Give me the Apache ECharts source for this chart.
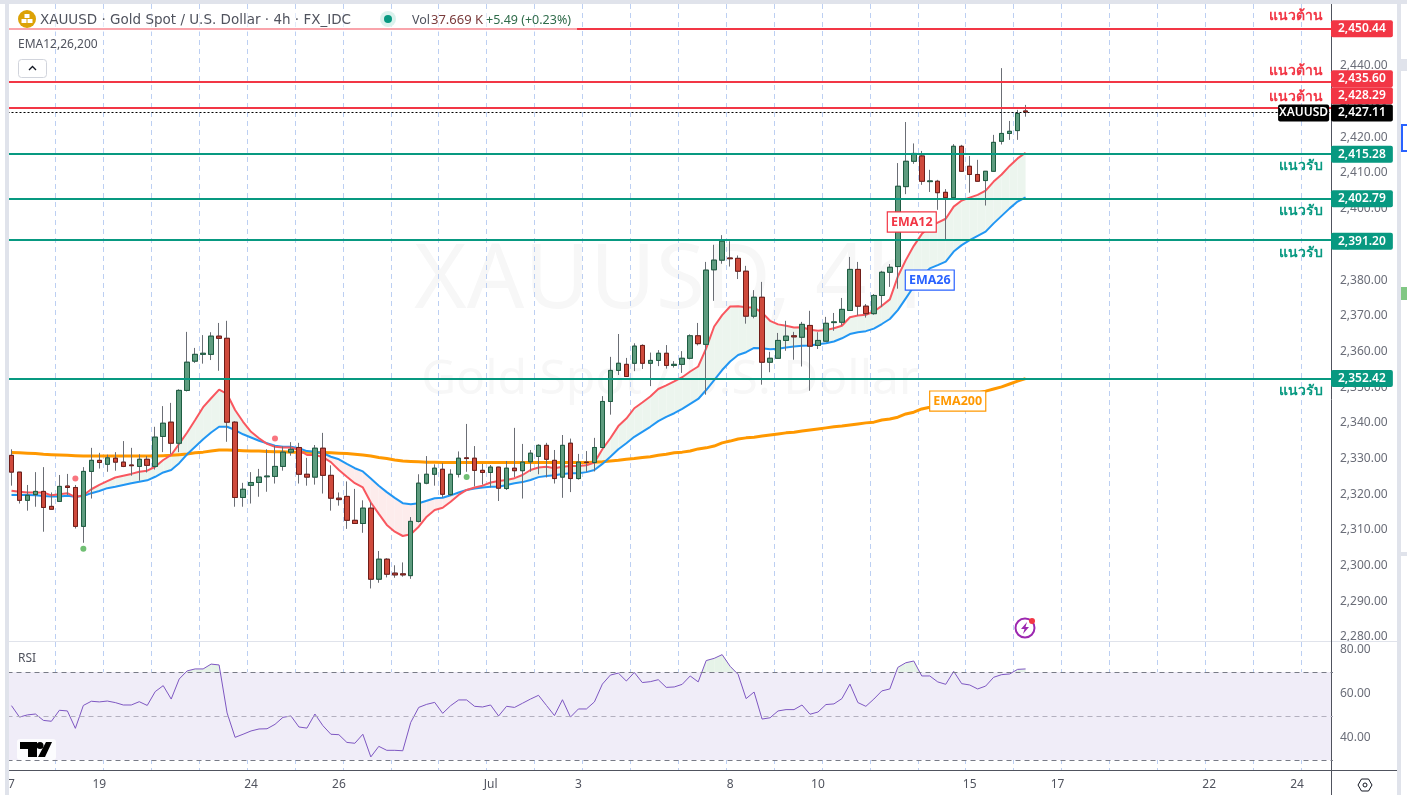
<!DOCTYPE html>
<html>
<head>
<meta charset="utf-8">
<title>XAUUSD</title>
<script src="https://cdn.jsdelivr.net/npm/echarts@6/dist/echarts.min.js"></script>
<style>
html,body{margin:0;padding:0;background:#fff;overflow:hidden}
#chart{width:1407px;height:795px}
</style>
</head>
<body>
<div id="chart"></div>
<script>
// ohlc, one candle at a time
var opens = [2330.9,2326.2,2318.3,2319.9,2320.8,2316.6,2318.0,2322.3,2321.9,2311.0,2326.4,2329.5,2328.4,2330.1,2329.0,2328.2,2327.8,2329.8,2327.8,2336.2,2340.2,2334.3,2349.1,2357.3,2359.2,2359.2,2364.3,2363.7,2340.2,2319.1,2322.5,2323.3,2324.9,2325.0,2327.8,2331.8,2333.1,2325.6,2324.8,2332.9,2325.3,2318.9,2319.4,2312.7,2311.8,2316.1,2296.2,2301.8,2297.9,2297.7,2297.2,2312.4,2323.1,2325.6,2327.0,2319.9,2325.6,2330.2,2330.1,2326.7,2326.1,2327.6,2321.6,2327.3,2326.6,2329.1,2330.6,2333.7,2329.5,2324.8,2334.3,2324.4,2329.0,2328.9,2333.1,2346.0,2354.7,2356.4,2356.7,2361.7,2356.7,2357.5,2359.5,2356.1,2356.4,2358.1,2364.4,2362.0,2382.9,2385.6,2386.2,2386.1,2382.5,2369.9,2375.2,2357.0,2358.1,2363.1,2364.4,2364.0,2367.3,2361.7,2362.9,2368.1,2368.2,2371.5,2383.0,2372.7,2370.6,2375.7,2382.2,2383.8,2406.2,2413.3,2414.8,2407.6,2407.7,2404.6,2403.1,2417.5,2411.9,2409.6,2407.9,2410.5,2418.9,2421.1,2421.9,2427.4];
var closes = [2326.2,2318.3,2319.7,2320.8,2316.3,2315.8,2322.2,2321.9,2311.0,2326.4,2329.5,2328.9,2330.2,2329.0,2327.8,2328.0,2329.8,2328.1,2336.0,2339.9,2334.3,2349.1,2357.0,2359.2,2359.5,2364.3,2363.7,2340.2,2319.1,2321.4,2323.3,2324.8,2325.1,2327.8,2331.8,2332.6,2325.6,2324.8,2332.9,2325.3,2318.9,2318.5,2312.7,2311.8,2316.1,2296.2,2301.8,2297.6,2297.4,2297.4,2312.4,2323.1,2325.6,2327.3,2320.0,2325.6,2330.1,2330.0,2326.7,2326.1,2327.6,2321.7,2327.3,2326.6,2329.0,2331.5,2333.7,2329.8,2324.4,2333.7,2324.4,2329.0,2328.9,2333.1,2346.0,2354.7,2356.7,2353.0,2361.5,2356.7,2357.5,2359.5,2356.1,2356.4,2358.1,2364.4,2362.2,2382.8,2385.6,2390.9,2386.0,2382.5,2369.9,2375.2,2357.0,2358.1,2363.1,2364.3,2364.1,2367.6,2361.5,2363.1,2367.9,2368.3,2371.8,2383.0,2372.7,2370.6,2375.7,2382.2,2383.6,2406.3,2413.3,2415.5,2407.7,2407.8,2404.5,2403.1,2417.5,2410.5,2409.6,2407.7,2410.5,2418.6,2421.1,2421.7,2426.7,2427.11];
var lows = [2322.4,2317.4,2315.4,2316.5,2309.5,2315.8,2318.0,2319.8,2310.4,2306.4,2318.8,2327.2,2326.3,2326.6,2327.6,2325.2,2323.8,2326.1,2326.9,2331.8,2331.3,2331.8,2348.8,2356.8,2356.6,2357.6,2354.6,2334.7,2316.5,2316.5,2317.4,2319.3,2320.7,2323.0,2326.6,2330.8,2323.0,2322.4,2322.7,2320.2,2315.4,2316.8,2310.3,2311.7,2309.2,2293.6,2295.2,2296.7,2296.6,2296.9,2296.3,2312.1,2322.8,2322.4,2319.1,2319.5,2324.7,2326.3,2322.2,2322.7,2321.9,2318.1,2321.2,2324.8,2318.8,2326.3,2325.6,2324.7,2323.0,2319.0,2320.6,2324.1,2326.3,2326.4,2332.8,2342.3,2353.4,2353.0,2354.5,2355.1,2350.3,2355.9,2355.2,2355.5,2354.0,2357.8,2361.7,2347.9,2374.2,2384.6,2383.8,2380.3,2367.8,2369.3,2350.7,2354.2,2358.1,2360.2,2357.7,2355.8,2349.0,2360.7,2362.7,2365.8,2367.3,2371.5,2370.1,2369.5,2370.3,2372.5,2378.1,2377.6,2404.1,2412.6,2406.7,2404.7,2399.7,2391.2,2403.1,2410.3,2404.5,2407.6,2400.9,2410.5,2418.0,2419.3,2419.3,2425.8];
var highs = [2332.6,2326.2,2322.6,2326.2,2327.6,2320.5,2325.4,2325.7,2322.6,2327.6,2333.0,2331.6,2331.1,2331.8,2334.9,2333.0,2331.2,2330.7,2338.9,2344.7,2345.6,2349.4,2365.5,2361.0,2364.6,2365.4,2368.0,2368.6,2340.5,2323.2,2326.2,2327.1,2332.6,2333.6,2333.4,2334.6,2334.4,2330.2,2333.8,2337.2,2328.1,2320.5,2323.6,2321.5,2318.3,2317.7,2304.1,2302.1,2300.1,2300.9,2313.6,2325.6,2330.7,2328.4,2328.7,2327.0,2332.0,2339.7,2333.5,2328.5,2328.2,2327.7,2329.3,2338.6,2334.1,2332.4,2334.0,2334.4,2332.4,2336.6,2335.6,2331.3,2332.1,2335.8,2347.5,2358.5,2364.9,2358.2,2362.3,2362.0,2359.7,2360.4,2361.8,2357.3,2360.1,2364.8,2368.0,2385.1,2389.9,2392.6,2390.9,2386.9,2384.0,2377.2,2379.5,2359.9,2365.2,2368.6,2365.5,2368.3,2371.4,2365.4,2369.7,2370.8,2375.0,2386.5,2385.1,2373.3,2376.1,2382.6,2384.5,2412.8,2424.3,2418.3,2416.2,2410.9,2408.1,2405.5,2418.1,2417.9,2414.8,2413.7,2410.5,2420.7,2439.4,2424.6,2427.7,2429.1];
var ema12 = [2321.0,2320.7,2320.5,2320.5,2320.5,2319.7,2320.0,2320.3,2319.2,2319.7,2321.4,2322.6,2323.7,2324.7,2325.2,2325.7,2326.3,2326.6,2327.7,2329.6,2331.0,2334.1,2337.3,2340.8,2344.4,2346.9,2349.3,2348.1,2343.6,2340.3,2337.5,2335.7,2334.1,2333.3,2333.1,2333.1,2332.4,2331.0,2331.0,2330.4,2329.0,2326.8,2324.9,2323.1,2321.9,2317.7,2314.5,2311.4,2309.5,2308.3,2308.8,2310.9,2313.7,2315.6,2316.2,2317.9,2319.8,2321.2,2321.9,2322.4,2323.3,2323.7,2324.0,2324.5,2325.4,2326.8,2327.5,2327.7,2327.3,2327.7,2327.9,2327.9,2328.1,2328.9,2332.6,2335.7,2339.1,2341.2,2344.1,2345.7,2347.4,2349.5,2350.5,2351.6,2352.8,2354.4,2355.8,2360.9,2367.0,2370.2,2372.6,2372.7,2372.4,2372.3,2370.9,2368.6,2367.6,2367.2,2366.7,2366.8,2366.1,2365.8,2366.0,2366.5,2367.2,2369.6,2370.1,2370.3,2371.2,2372.8,2374.6,2381.0,2385.6,2389.6,2392.9,2395.0,2396.1,2397.2,2400.6,2402.3,2403.1,2403.9,2405.1,2407.6,2409.6,2412.0,2414.1,2415.7];
var ema26 = [2319.8,2319.8,2319.8,2319.7,2319.5,2319.4,2319.4,2319.6,2319.3,2319.5,2320.3,2320.9,2321.7,2322.1,2322.6,2323.1,2323.5,2323.9,2324.9,2326.1,2326.8,2328.7,2331.2,2333.3,2335.4,2337.3,2338.9,2338.9,2338.0,2336.8,2335.9,2335.0,2334.3,2333.6,2333.3,2333.3,2332.9,2332.1,2331.9,2331.5,2330.5,2329.8,2328.5,2327.3,2326.4,2324.4,2322.4,2320.6,2319.0,2317.5,2317.2,2317.5,2318.2,2318.9,2319.0,2319.7,2320.5,2321.2,2321.6,2321.9,2322.1,2322.1,2322.6,2323.1,2323.4,2324.0,2324.8,2325.1,2325.3,2325.7,2325.9,2325.9,2326.2,2326.8,2328.5,2330.5,2332.6,2334.3,2336.1,2337.5,2338.9,2340.5,2341.7,2342.7,2343.9,2345.3,2346.7,2349.2,2352.0,2354.8,2357.2,2359.0,2359.8,2361.0,2360.9,2360.6,2360.8,2361.1,2361.4,2361.6,2361.7,2362.0,2362.3,2362.8,2363.7,2364.9,2365.4,2365.7,2366.4,2367.7,2369.1,2371.6,2374.9,2378.2,2381.0,2383.3,2384.2,2385.2,2388.0,2389.8,2391.2,2392.4,2393.6,2395.9,2398.0,2400.1,2402.0,2403.2];
var ema200 = [2331.7,2331.6,2331.5,2331.4,2331.2,2331.1,2331.0,2330.9,2330.8,2330.7,2330.7,2330.7,2330.7,2330.7,2330.7,2330.7,2330.7,2330.7,2330.7,2330.8,2330.9,2331.1,2331.3,2331.6,2331.8,2332.1,2332.4,2332.4,2332.3,2332.2,2332.1,2332.1,2332.0,2331.9,2331.9,2331.8,2331.8,2331.8,2331.7,2331.7,2331.6,2331.5,2331.4,2331.2,2331.0,2330.7,2330.3,2330.0,2329.6,2329.3,2329.2,2329.1,2329.0,2329.0,2328.9,2328.9,2328.9,2328.9,2328.9,2328.9,2328.9,2328.9,2328.9,2328.9,2328.9,2328.9,2328.9,2328.9,2328.9,2328.9,2328.9,2328.9,2328.9,2329.0,2329.1,2329.3,2329.5,2329.8,2330.0,2330.3,2330.5,2330.9,2331.2,2331.6,2331.8,2332.1,2332.7,2333.0,2333.5,2334.4,2334.9,2335.5,2335.8,2336.0,2336.3,2336.6,2336.9,2337.2,2337.4,2337.7,2338.0,2338.3,2338.6,2338.9,2339.1,2339.4,2339.7,2340.0,2340.2,2340.8,2341.1,2341.6,2342.5,2343.0,2343.9,2344.4,2345.0,2345.6,2346.4,2347.0,2347.5,2348.4,2348.9,2349.5,2350.1,2350.9,2351.7,2352.4];
var rsi = [54.7,49.5,50.5,50.9,48.0,47.6,52.6,52.3,44.4,54.8,56.7,56.4,56.8,56.1,55.0,55.0,56.5,54.8,61.1,63.8,57.7,66.8,70.5,71.4,71.4,73.6,73.2,51.4,40.3,41.7,43.2,44.1,44.2,46.2,49.4,50.0,45.0,44.5,50.9,45.6,41.7,41.5,38.0,37.6,41.7,31.4,36.2,34.4,34.4,34.2,47.1,53.9,55.3,56.2,51.2,54.7,57.3,57.3,54.4,54.1,55.0,50.0,54.4,53.9,55.8,57.7,59.4,54.8,50.2,57.4,49.5,53.2,53.2,56.4,64.5,68.6,69.5,65.9,69.8,65.2,65.6,66.5,63.0,63.2,64.4,68.2,65.5,75.2,76.2,77.9,72.6,68.9,57.9,60.9,48.6,49.2,52.3,52.9,52.9,55.0,50.8,51.8,55.2,55.5,57.9,64.5,56.1,54.4,57.7,61.4,62.3,72.1,74.2,75.0,68.2,68.2,65.5,64.4,70.3,64.7,64.1,62.3,63.6,67.6,68.8,69.1,71.2,71.4];

var resistance = [2450.44, 2435.60, 2428.29];
var support = [2415.28, 2402.79, 2391.20, 2352.42];
var lastPrice = 2427.11;
var sellDots = [[8, 2324.4], [33, 2335.6]];
var buyDots = [[9, 2304.7], [57, 2324.8]];

var priceTicks = [2280,2290,2300,2310,2320,2330,2340,2350,2360,2370,2380,2390,2400,2410,2420,2430,2440,2450];
var rsiTicks = [40,60,80];
var dateIndex = [0,11,30,41,60,71,90,101,120,131,150,161];
var dateText = ['7','19','24','26','Jul','3','8','10','15','17','22','24'];

var FONT = '"Noto Sans","Open Sans",sans-serif';
var RED = '#f23645', GREEN = '#089981', FRAME = '#e0e3eb', AXIS = '#50535e', TXT = '#6a6d78';
var BARS = 166;

var categories = [];
for (var i = 0; i < BARS; i++) {
    var k = dateIndex.indexOf(i);
    categories.push(k >= 0 ? dateText[k] : '');
}

var candleData = opens.map(function (o, i) { return [o, closes[i], lows[i], highs[i]]; });
var bodyData = opens.map(function (o, i) {
    return [o, closes[i], Math.min(o, closes[i]), Math.max(o, closes[i])];
});

// shaded ribbon between two lines, one polygon per candle step
function ribbon(a, b, upColor, downColor) {
    var pairs = [];
    for (var i = 0; i < a.length - 1; i++) pairs.push([i, a[i], b[i], a[i + 1], b[i + 1]]);
    return {
        data: pairs,
        render: function (params, api) {
            var x = api.value(0), a0 = api.value(1), b0 = api.value(2), a1 = api.value(3), b1 = api.value(4);
            var p = function (xx, v) { return api.coord([xx, v]); };
            var shapes = [];
            var add = function (points, up) {
                var col = up ? upColor : downColor;
                if (!col) return;
                shapes.push({type: 'polygon', shape: {points: points}, style: {fill: col}});
            };
            var d0 = a0 - b0, d1 = a1 - b1;
            if (d0 * d1 >= 0) {
                add([p(x, a0), p(x + 1, a1), p(x + 1, b1), p(x, b0)], d0 + d1 > 0);
            } else {
                var pa = p(x, a0), pb = p(x, b0), qa = p(x + 1, a1), qb = p(x + 1, b1);
                var t = d0 / (d0 - d1);
                var m = [pa[0] + (qa[0] - pa[0]) * t, pa[1] + (qa[1] - pa[1]) * t];
                add([pa, m, pb], d0 > 0);
                add([m, qa, qb], d1 > 0);
            }
            return {type: 'group', children: shapes};
        }
    };
}
var emaBand = ribbon(ema12, ema26, '#ecf5ee', '#fdecec');
var rsiTop = rsi.map(function () { return 70; });
var rsiBand = ribbon(rsi, rsiTop, '#e6f3e8', null);

function tag(level, text, bg, dy, idx, dx, pad) {
    return {
        coord: [idx === undefined ? 165 : idx, level],
        label: {
            show: true, position: 'inside', align: 'left', offset: [dx === undefined ? 2 : dx, dy],
            formatter: text, color: '#fff', backgroundColor: bg, padding: [3, pad === undefined ? 7 : pad, 2, pad === undefined ? 7 : pad],
            borderRadius: 2, fontFamily: FONT, fontSize: 12, fontWeight: 600, lineHeight: 12
        }
    };
}
function thai(level, text, color, dy) {
    return {
        coord: [164, level],
        label: {
            show: true, position: 'inside', align: 'right', offset: [2, dy], formatter: text, color: color,
            fontFamily: FONT, fontSize: 14, fontWeight: 600
        }
    };
}
function emaTag(idx, level, text, color, dx) {
    return {
        coord: [idx, level],
        label: {
            show: true, position: 'inside', offset: [dx, 0], formatter: text, color: color, backgroundColor: '#fff',
            borderColor: color, borderWidth: 1.2, padding: [4, 3, 2, 3], fontFamily: FONT, fontSize: 12.5, fontWeight: 700,
            lineHeight: 13
        }
    };
}
function money(v) {
    return v.toLocaleString('en-US', {minimumFractionDigits: 2, maximumFractionDigits: 2});
}

var dashes = {color: '#bccff2', width: 1, type: [5, 4]};
var everySix = function (i) { return i % 6 === 0; };
var showDate = function (i) { return dateIndex.indexOf(i) >= 0; };

var option = {
    animation: false,
    backgroundColor: '#fff',
    textStyle: {fontFamily: FONT},
    grid: [
        {left: 7.5, top: 4, width: 1325.5, height: 637},
        {left: 7.5, top: 642, width: 1325.5, height: 128}
    ],
    xAxis: [
        {type: 'category', gridIndex: 0, data: categories, axisLine: {show: false}, axisTick: {show: false},
            axisLabel: {show: false}, splitLine: {show: true, interval: everySix, lineStyle: dashes}},
        {type: 'category', gridIndex: 1, data: categories, axisLine: {show: false}, axisTick: {show: false},
            axisLabel: {show: true, interval: showDate, color: AXIS, fontSize: 12, margin: 9, fontFamily: FONT},
            splitLine: {show: true, interval: everySix, lineStyle: dashes}}
    ],
    yAxis: [
        {type: 'value', gridIndex: 0, position: 'right', offset: -2, min: 2278.88, max: 2457.37, splitLine: {show: false},
            axisLine: {show: false}, axisTick: {show: false},
            axisLabel: {customValues: priceTicks, formatter: money, color: TXT, fontSize: 12, margin: 9, fontFamily: FONT, padding: [2, 0, 0, 0]}},
        {type: 'value', gridIndex: 1, position: 'right', offset: -2, min: 25.45, max: 83.64, splitLine: {show: false},
            axisLine: {show: false}, axisTick: {show: false},
            axisLabel: {customValues: rsiTicks, formatter: money, color: TXT, fontSize: 12, margin: 9, fontFamily: FONT, padding: [2, 0, 0, 0]}}
    ],
    series: [
        {type: 'custom', name: 'ema fill', data: emaBand.data, renderItem: emaBand.render, xAxisIndex: 0, yAxisIndex: 0,
            silent: true, z: 1, encode: {x: 0, y: [1, 2, 3, 4]}},
        {type: 'line', name: 'EMA200', data: ema200, showSymbol: false, lineStyle: {color: '#ff9800', width: 3}, z: 2,
            markPoint: {symbol: 'circle', symbolSize: 1, itemStyle: {color: 'transparent'}, silent: true,
                data: [emaTag(118, 2346.1, 'EMA200', '#ff9800', 4)]}},
        {type: 'line', name: 'EMA26', data: ema26, showSymbol: false, lineStyle: {color: '#2196f3', width: 2}, z: 2,
            markPoint: {symbol: 'circle', symbolSize: 1, itemStyle: {color: 'transparent'}, silent: true,
                data: [emaTag(115, 2380.0, 'EMA26', '#2962ff', 0)]}},
        {type: 'line', name: 'EMA12', data: ema12, showSymbol: false, lineStyle: {color: '#f9575f', width: 2}, z: 2,
            markPoint: {symbol: 'circle', symbolSize: 1, itemStyle: {color: 'transparent'}, silent: true,
                data: [emaTag(113, 2396.3, 'EMA12', RED, -2)]}},
        // wicks are grey, so the bodies get their own pass on top
        {type: 'candlestick', name: 'wicks', data: candleData, barWidth: 5, z: 3,
            itemStyle: {color: '#6b6e75', color0: '#6b6e75', borderColor: '#6b6e75', borderColor0: '#6b6e75', borderWidth: 1}},
        {type: 'candlestick', name: 'XAUUSD', data: bodyData, barWidth: 5, z: 3,
            itemStyle: {color: '#5e9c7f', color0: '#cf4a3c', borderColor: '#1e5d42', borderColor0: '#701d18', borderWidth: 1}},
        {type: 'scatter', name: 'sell', data: sellDots, symbolSize: 6, itemStyle: {color: '#f7525f'}, z: 3},
        {type: 'scatter', name: 'buy', data: buyDots, symbolSize: 6, itemStyle: {color: '#4caf50'}, z: 3},
        {type: 'line', name: 'levels', data: [], z: 4,
            markLine: {
                silent: true, symbol: 'none', label: {show: false},
                data: resistance.map(function (v) {
                    return {yAxis: v, lineStyle: {color: RED, width: 2, type: 'solid'}};
                }).concat(support.map(function (v) {
                    return {yAxis: v, lineStyle: {color: GREEN, width: 2, type: 'solid'}};
                })).concat([{yAxis: lastPrice, lineStyle: {color: '#000', width: 1, type: [2, 2]}}])
            },
            markPoint: {
                symbol: 'circle', symbolSize: 1, itemStyle: {color: 'transparent'}, silent: true,
                data: [
                    thai(resistance[0], 'แนวต้าน', RED, -13),
                    thai(resistance[1], 'แนวต้าน', RED, -11),
                    thai(resistance[2], 'แนวต้าน', RED, -11),
                    thai(support[0], 'แนวรับ', GREEN, 12),
                    thai(support[1], 'แนวรับ', GREEN, 12),
                    thai(support[2], 'แนวรับ', GREEN, 13),
                    thai(support[3], 'แนวรับ', GREEN, 12),
                    tag(resistance[0], money(resistance[0]), RED, 0),
                    tag(resistance[1], money(resistance[1]), RED, -3),
                    tag(resistance[2], money(resistance[2]), RED, -12),
                    tag(support[0], money(support[0]), GREEN, 0),
                    tag(support[1], money(support[1]), GREEN, 0),
                    tag(support[2], money(support[2]), GREEN, 1),
                    tag(support[3], money(support[3]), GREEN, 0),
                    tag(lastPrice, 'XAUUSD', '#000', 1, 159, -3, 1),
                    tag(lastPrice, money(lastPrice), '#000', 1)
                ]
            }},
        {type: 'line', name: 'RSI', data: rsi, xAxisIndex: 1, yAxisIndex: 1, showSymbol: false,
            lineStyle: {color: '#7e57c2', width: 1}, z: 3,
            markArea: {silent: true, itemStyle: {color: '#f0edf8'}, data: [[{yAxis: 30}, {yAxis: 70}]]},
            markLine: {silent: true, symbol: 'none', label: {show: false}, data: [
                {yAxis: 70, lineStyle: {color: '#787b86', width: 1, type: [5, 4]}},
                {yAxis: 50, lineStyle: {color: '#b3b0bf', width: 1, type: [5, 4]}},
                {yAxis: 30, lineStyle: {color: '#787b86', width: 1, type: [5, 4]}}
            ]}},
        {type: 'custom', name: 'rsi fill', data: rsiBand.data, renderItem: rsiBand.render, xAxisIndex: 1, yAxisIndex: 1,
            silent: true, z: 2, encode: {x: 0, y: [1, 2, 3, 4]}}
    ],
    graphic: [
        // watermark
        {type: 'text', z: 0, silent: true, x: 668, y: 282, style: {text: 'XAUUSD, 4h', font: '90px ' + FONT, fill: 'rgba(19,23,34,0.035)', textAlign: 'center', textVerticalAlign: 'middle'}},
        {type: 'text', z: 0, silent: true, x: 670, y: 380, style: {text: 'Gold Spot / U.S. Dollar', font: '48px ' + FONT, fill: 'rgba(19,23,34,0.035)', textAlign: 'center', textVerticalAlign: 'middle'}},
        // frame
        {type: 'rect', z: 90, silent: true, shape: {x: 0, y: 0, width: 1407, height: 4}, style: {fill: FRAME}},
        {type: 'rect', z: 90, silent: true, shape: {x: 5, y: 0, width: 4, height: 795}, style: {fill: FRAME}},
        {type: 'rect', z: 90, silent: true, shape: {x: 1397, y: 0, width: 4, height: 795}, style: {fill: FRAME}},
        {type: 'rect', z: 90, silent: true, shape: {x: 1401, y: 59, width: 6, height: 12}, style: {fill: FRAME}},
        {type: 'rect', z: 90, silent: true, shape: {x: 1401, y: 552, width: 6, height: 4}, style: {fill: FRAME}},
        {type: 'rect', z: 90, silent: true, shape: {x: 1402, y: 125, width: 7, height: 26}, style: {fill: '#fff', stroke: '#2962ff', lineWidth: 2}},
        {type: 'rect', z: 90, silent: true, shape: {x: 1401, y: 287, width: 6, height: 13}, style: {fill: '#81c784'}},
        // grid runs 2px past the price axis, keep that sliver clean
        {type: 'rect', z: 3.5, silent: true, shape: {x: 1332, y: 4, width: 3, height: 791}, style: {fill: '#fff'}},
        {type: 'line', z: 3.6, silent: true, shape: {x1: 9, y1: 641.5, x2: 1397, y2: 641.5}, style: {stroke: FRAME, lineWidth: 1}},
        {type: 'line', z: 3.6, silent: true, shape: {x1: 9, y1: 770.5, x2: 1397, y2: 770.5}, style: {stroke: AXIS, lineWidth: 1}},
        {type: 'line', z: 3.6, silent: true, shape: {x1: 1331.5, y1: 4, x2: 1331.5, y2: 795}, style: {stroke: AXIS, lineWidth: 1}},
        // settings hexagon
        {type: 'polygon', z: 90, silent: true, shape: {points: [[1358, 785], [1361.5, 779], [1368.5, 779], [1372, 785], [1368.5, 791], [1361.5, 791]]}, style: {fill: '#fff', stroke: '#131722', lineWidth: 1}},
        {type: 'circle', z: 90, silent: true, shape: {cx: 1365, cy: 785, r: 2}, style: {fill: '#fff', stroke: '#131722', lineWidth: 1}},
        // header
        {type: 'rect', z: 80, silent: true, shape: {x: 9, y: 12, width: 568, height: 20}, style: {fill: 'rgba(255,255,255,0.55)'}},
        {type: 'circle', z: 90, silent: true, shape: {cx: 27, cy: 19, r: 9}, style: {fill: '#dca206'}},
        {type: 'rect', z: 91, silent: true, shape: {x: 24.5, y: 14, width: 5, height: 4}, style: {fill: '#fff'}},
        {type: 'rect', z: 91, silent: true, shape: {x: 21.5, y: 19, width: 5, height: 4}, style: {fill: '#fff'}},
        {type: 'rect', z: 91, silent: true, shape: {x: 27.5, y: 19, width: 5, height: 4}, style: {fill: '#fff'}},
        {type: 'text', z: 90, silent: true, x: 40, y: 20, style: {text: 'XAUUSD · Gold Spot / U.S. Dollar · 4h · FX_IDC', font: '13.5px "DejaVu Sans"', fill: '#50535e', textVerticalAlign: 'middle'}},
        {type: 'circle', z: 90, silent: true, shape: {cx: 388, cy: 19, r: 8}, style: {fill: '#daf2ed'}},
        {type: 'circle', z: 91, silent: true, shape: {cx: 388, cy: 19, r: 4}, style: {fill: GREEN}},
        {type: 'text', z: 90, silent: true, x: 412, y: 20, style: {text: 'Vol', font: '12.5px ' + FONT, fill: '#50535e', textVerticalAlign: 'middle'}},
        {type: 'text', z: 90, silent: true, x: 431, y: 20, style: {text: '37.669 K', font: '13px ' + FONT, fill: '#7a3b3b', textVerticalAlign: 'middle'}},
        {type: 'text', z: 90, silent: true, x: 486, y: 20, style: {text: '+5.49 (+0.23%)', font: '12.5px ' + FONT, fill: '#2f6b4a', textVerticalAlign: 'middle'}},
        {type: 'text', z: 90, silent: true, x: 18, y: 45, style: {text: 'EMA12,26,200', font: '12px ' + FONT, fill: '#50535e', textVerticalAlign: 'middle'}},
        {type: 'rect', z: 90, silent: true, shape: {x: 18.5, y: 59.5, width: 28, height: 18, r: 3}, style: {fill: '#fff', stroke: '#d1d4dc', lineWidth: 1}},
        {type: 'polyline', z: 91, silent: true, shape: {points: [[29, 70], [32.5, 66.5], [36, 70]]}, style: {fill: 'none', stroke: '#131722', lineWidth: 1.3}},
        {type: 'text', z: 90, silent: true, x: 18, y: 659, style: {text: 'RSI', font: '12px ' + FONT, fill: '#50535e', textVerticalAlign: 'middle'}},
        // tradingview mark
        {type: 'rect', z: 90, silent: true, shape: {x: 17, y: 739, width: 39, height: 21, r: 3}, style: {fill: 'rgba(255,255,255,0.8)'}},
        {type: 'polygon', z: 91, silent: true, shape: {points: [[20, 742], [37, 742], [37, 757], [28, 757], [28, 749], [20, 749]]}, style: {fill: '#000'}},
        {type: 'circle', z: 91, silent: true, shape: {cx: 40, cy: 745.5, r: 3.5}, style: {fill: '#000'}},
        {type: 'polygon', z: 91, silent: true, shape: {points: [[46, 742], [52, 742], [45, 757], [38, 757]]}, style: {fill: '#000'}},
        // flash icon
        {type: 'circle', z: 90, silent: true, shape: {cx: 1025, cy: 628, r: 9.5}, style: {fill: '#fff', stroke: '#9c27b0', lineWidth: 2}},
        {type: 'polygon', z: 91, silent: true, shape: {points: [[1027, 622], [1021, 629], [1024.5, 629], [1023, 634], [1029, 627], [1025.5, 627]]}, style: {fill: '#9c27b0'}},
        {type: 'circle', z: 91, silent: true, shape: {cx: 1032, cy: 621, r: 3}, style: {fill: RED}}
    ]
};

var myChart = echarts.init(document.getElementById('chart'));
myChart.setOption(option);
</script>
</body>
</html>
